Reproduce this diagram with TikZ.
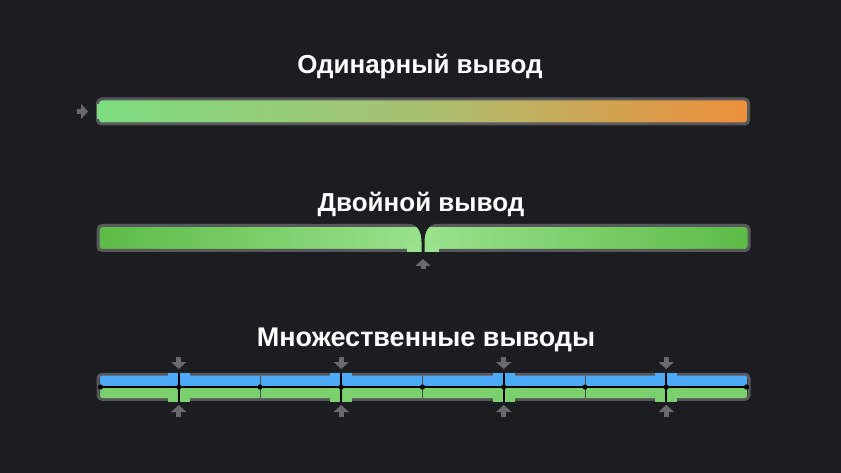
\documentclass[tikz,border=0pt]{standalone}
\usepackage{fontspec}
\setmainfont{Liberation Sans}
\usetikzlibrary{arrows.meta}
\definecolor{bg}{HTML}{1C1D21}
\definecolor{frame}{HTML}{58585C}
\definecolor{pointer}{HTML}{6A6A6E}
\definecolor{oneA}{HTML}{7BDC80}
\definecolor{oneB}{HTML}{A9C070}
\definecolor{oneC}{HTML}{EE8E3A}
\definecolor{twoA}{HTML}{5CBB47}
\definecolor{twoB}{HTML}{9AE28C}
\definecolor{laneA}{HTML}{4DAAF6}
\definecolor{laneB}{HTML}{7AD06C}

\begin{document}
\begin{tikzpicture}
[x=1pt,y=-1pt,
title/.style={anchor=base,text=white,font=\fontsize{26}{30}\selectfont\bfseries},
bar/.style={draw=frame,line width=3pt,rounded corners=4pt,minimum width=651pt,minimum height=25pt,inner sep=0pt},
feed/.style={draw=pointer,line width=5pt,-{Triangle[length=7pt,width=15pt]}}]

\fill[bg] (0,0) rectangle (841,473);

% single output
\node[title] (t1) at (420,73.3) {Одинарный вывод};
\node[bar,left color=oneA,right color=oneC,middle color=oneB] (b1) at (423,111.5) {};
\fill[oneA] (96.5,104) rectangle (100,119);
\coordinate (in1) at (77,111.5);
\draw[feed] (in1) -- (b1.west) [shorten >=8pt];

% double output
\node[title] (t2) at (421,211.7) {Двойной вывод};
\node[bar,left color=twoA,right color=twoA,middle color=twoB] (b2) at (423.5,238) {};
\fill[twoB] (407,246) rectangle (439,252.5);
\fill[bg] (408,223.5) .. controls (418,224) and (421.5,232) .. (421.5,242)
  -- (421.5,254) -- (424.5,254) -- (424.5,242)
  .. controls (424.5,232) and (428,224) .. (438,223.5) -- cycle;
\coordinate (in2) at (423,269);
\coordinate (hit2) at (423,259);
\draw[feed] (in2) -- (hit2);

% multiple outputs
\node[title,font=\fontsize{27}{30}\selectfont\bfseries] (t3) at (426,346.7) {Множественные выводы};
\node[bar] (b3) at (423.5,386.75) {};
\fill[laneA,rounded corners=2pt] (100,375.5) rectangle (747,386.5);
\fill[laneB,rounded corners=2pt] (100,387.5) rectangle (747,398);
\foreach \k in {1,3,5,7}{
  \pgfmathsetmacro\x{97.5+81.25*\k}
  \fill[laneA] (\x-11,372.5) rectangle (\x+11,386.5);
  \fill[laneB] (\x-11,387.5) rectangle (\x+11,401.5);
  \draw[black,line width=1.6pt] (\x,372.5) -- (\x,401.5);
  \coordinate (top\k) at (\x,357);
  \coordinate (hit\k) at (\x,369);
  \coordinate (low\k) at (\x,417);
  \coordinate (up\k) at (\x,405);
  \draw[feed] (top\k) -- (hit\k);
  \draw[feed] (low\k) -- (up\k);
}
\foreach \k in {2,4,6}{
  \pgfmathsetmacro\x{97.5+81.25*\k}
  \draw[black!70,line width=0.8pt] (\x,375.5) -- (\x,398);
}
\draw[black,line width=1.6pt] (100,387) -- (747,387);
\foreach \k in {0,...,8}{
  \pgfmathsetmacro\x{min(max(97.5+81.25*\k,100.5),746.5)}
  \fill[black] (\x,387) circle (2.6pt);
}
\end{tikzpicture}
\end{document}
